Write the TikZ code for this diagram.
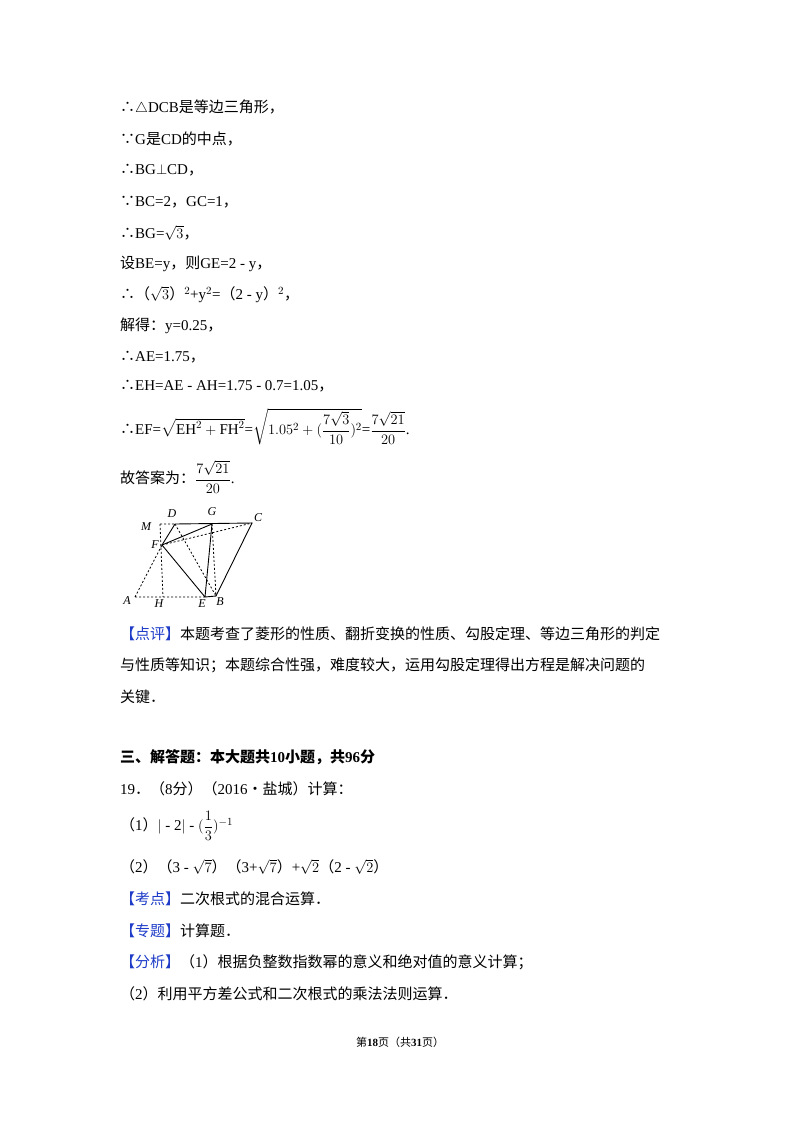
\documentclass[tikz,border=0pt]{standalone}
\usepackage{amsmath,amssymb}
\usepackage{fontspec}
\setmainfont{Liberation Serif}
\newfontfamily\cjk{Noto Sans CJK SC}
\newcommand{\C}[1]{{\cjk #1}}
\definecolor{kblue}{RGB}{30,60,200}
\begin{document}
\begin{tikzpicture}[x=1pt,y=-1pt,
  tl/.style={anchor=west,inner sep=0pt,font=\fontsize{15}{18}\selectfont},
  sl/.style={line width=0.9pt},
  dl/.style={line width=0.8pt,dash pattern=on 2pt off 2pt},
  lab/.style={font=\fontsize{12}{12}\selectfont\itshape,inner sep=0pt}]
\useasboundingbox (0,0) rectangle (800,1132);
\node[tl] (l1) at (120,108) {\C{∴}$\triangle$DCB\C{是等边三角形，}};
\node[tl] (l2) at (120,139) {\C{∵}G\C{是}CD\C{的中点，}};
\node[tl] (l3) at (120,170) {\C{∴}BG$\perp$CD\C{，}};
\node[tl] (l4) at (120,202) {\C{∵}BC=2\C{，}GC=1\C{，}};
\node[tl] (l5) at (120,233) {\C{∴}BG=$\sqrt{3}$\C{，}};
\node[tl] (l6) at (120,264) {\C{设}BE=y\C{，则}GE=2 - y\C{，}};
\node[tl] (l7) at (120,295) {\C{∴（}$\sqrt{3}$\C{）}$^2$+y$^2$=\C{（}2 - y\C{）}$^2$\C{，}};
\node[tl] (l8) at (120,326) {\C{解得：}y=0.25\C{，}};
\node[tl] (l9) at (120,357) {\C{∴}AE=1.75\C{，}};
\node[tl] (l10) at (120,386) {\C{∴}EH=AE - AH=1.75 - 0.7=1.05\C{，}};
\node[tl] (l11) at (120,427) {\C{∴}EF=$\sqrt{\mathrm{EH}^2+\mathrm{FH}^2}$=$\sqrt{1.05^2+(\dfrac{7\sqrt{3}}{10})^2}$=$\dfrac{7\sqrt{21}}{20}$.};
\node[tl] (l12) at (120,477) {\C{故答案为：}$\dfrac{7\sqrt{21}}{20}$.};
% figure
\coordinate (M) at (160,524);
\coordinate (D) at (175,524);
\coordinate (G) at (212,524);
\coordinate (C) at (252,523);
\coordinate (F) at (162,545);
\coordinate (A) at (135,597);
\coordinate (H) at (163,597);
\coordinate (E) at (205,597);
\coordinate (B) at (216,596);
\draw[sl] (D) -- (C) -- (B) -- (E) -- (F) -- (D);
\draw[sl] (F) -- (G) -- (E);
\draw[dl] (M) -- (D) (M) -- (H) (A) -- (F) (A) -- (E) (F) -- (C) (D) -- (B) (G) -- (B);
\node[lab] (lM) at (146,527) {M};
\node[lab] (lD) at (172,514) {D};
\node[lab] (lG) at (212,512) {G};
\node[lab] (lC) at (258,518) {C};
\node[lab] (lF) at (155,545) {F};
\node[lab] (lA) at (127,601) {A};
\node[lab] (lH) at (159,604) {H};
\node[lab] (lE) at (202,604) {E};
\node[lab] (lB) at (220,602) {B};
\node[tl] (l13) at (120,634) {\C{\textcolor{kblue}{【点评】}本题考查了菱形的性质、翻折变换的性质、勾股定理、等边三角形的判定}};
\node[tl] (l14) at (120,665) {\C{与性质等知识；本题综合性强，难度较大，运用勾股定理得出方程是解决问题的}};
\node[tl] (l15) at (120,697) {\C{关键．}};
\node[tl] (l16) at (120,757) {\bfseries\C{\bfseries 三、解答题：本大题共}10\C{\bfseries 小题，共}96\C{\bfseries 分}};
\node[tl] (l17) at (120,789) {19\C{．（}8\C{分）（}2016\C{•盐城）计算：}};
\node[tl] (l18) at (120,826) {\C{（}1\C{）}$|$ - 2$|$ - $(\dfrac{1}{3})^{-1}$};
\node[tl] (l19) at (120,867) {\C{（}2\C{）（}3 - $\sqrt{7}$\C{）（}3+$\sqrt{7}$\C{）}+$\sqrt{2}$\C{（}2 - $\sqrt{2}$\C{）}};
\node[tl] (l20) at (120,899) {\C{\textcolor{kblue}{【考点】}二次根式的混合运算．}};
\node[tl] (l21) at (120,931) {\C{\textcolor{kblue}{【专题】}计算题．}};
\node[tl] (l22) at (120,962) {\C{\textcolor{kblue}{【分析】}（}1\C{）根据负整数指数幂的意义和绝对值的意义计算；}};
\node[tl] (l23) at (120,994) {\C{（}2\C{）利用平方差公式和二次根式的乘法法则运算．}};
\node[anchor=center,inner sep=0pt,font=\fontsize{11}{12}\selectfont] (ft) at (400,1042) {\C{第}\textbf{18}\C{页（共}\textbf{31}\C{页）}};
\end{tikzpicture}
\end{document}
